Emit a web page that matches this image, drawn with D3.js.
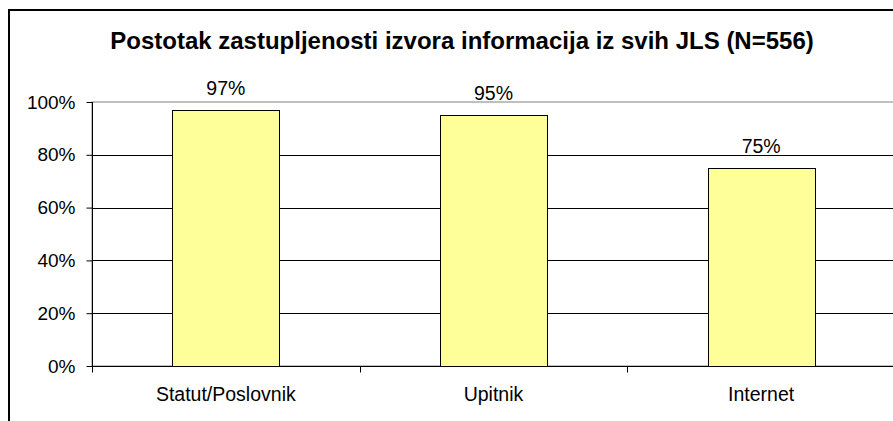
<!DOCTYPE html>
<html>
<head>
<meta charset="utf-8">
<script src="https://cdn.jsdelivr.net/npm/d3@7"></script>
<style>
  body { margin: 0; background: #fff; }
  svg { display: block; font-family: "Liberation Sans", Arial, sans-serif; }
</style>
</head>
<body>
<svg width="893" height="421"></svg>
<script>
const categories = ["Statut/Poslovnik", "Upitnik", "Internet"];
const values = [0.97, 0.95, 0.75];
const valueLabels = ["97%", "95%", "75%"];
const yTicks = [0, 0.2, 0.4, 0.6, 0.8, 1];
const title = "Postotak zastupljenosti izvora informacija iz svih JLS (N=556)";

const svg = d3.select("svg");
const margin = { top: 102, right: -2, bottom: 55, left: 92 };
const width = +svg.attr("width");
const height = +svg.attr("height");

// okvir grafikona (izlazi izvan prozora desno i dolje)
svg.append("path")
  .attr("d", `M9,${height + 5} V10 H${width + 5}`)
  .attr("fill", "none")
  .attr("stroke", "#000")
  .attr("stroke-width", 2);

svg.append("text")
  .attr("x", 462)
  .attr("y", 49)
  .attr("text-anchor", "middle")
  .style("font-size", "24px")
  .style("font-weight", "bold")
  .text(title);

const x = d3.scaleBand()
  .domain(categories)
  .range([margin.left, width - margin.right]);

const y = d3.scaleLinear()
  .domain([0, 1])
  .range([height - margin.bottom, margin.top]);

// okvir plot područja
svg.append("rect")
  .attr("x", margin.left)
  .attr("y", y(1))
  .attr("width", x.range()[1] - margin.left)
  .attr("height", y(0) - y(1))
  .attr("fill", "none")
  .attr("stroke", "#808080")
  .attr("stroke-width", 1);

// mreža
svg.append("g")
  .selectAll("line")
  .data(yTicks.filter(t => t > 0 && t < 1))
  .enter()
  .append("line")
  .attr("x1", margin.left)
  .attr("x2", x.range()[1])
  .attr("y1", d => Math.round(y(d)) + 0.5)
  .attr("y2", d => Math.round(y(d)) + 0.5)
  .attr("stroke", "#000")
  .attr("stroke-width", 1);

const bw = x.bandwidth() / 2.5;
svg.append("g")
  .selectAll("rect")
  .data(categories)
  .enter()
  .append("rect")
  .attr("x", (d) => Math.round(x(d) + (x.bandwidth() - bw) / 2) + 0.5)
  .attr("y", (d, i) => Math.round(y(values[i])) + 0.5)
  .attr("width", Math.round(bw))
  .attr("height", (d, i) => Math.round(y(0)) - Math.round(y(values[i])))
  .attr("fill", "#FFFF99")
  .attr("stroke", "#000")
  .attr("stroke-width", 1);

svg.append("g")
  .selectAll("text")
  .data(categories)
  .enter()
  .append("text")
  .attr("x", d => x(d) + x.bandwidth() / 2)
  .attr("y", (d, i) => y(values[i]) - 15)
  .attr("text-anchor", "middle")
  .style("font-size", "19.5px")
  .text((d, i) => valueLabels[i]);

// y os
const yAxis = d3.axisLeft(y)
  .tickValues(yTicks)
  .tickFormat(d3.format(".0%"))
  .tickSize(6)
  .tickPadding(11);

const gy = svg.append("g")
  .attr("transform", `translate(${margin.left + 0.5},0)`)
  .call(yAxis);
gy.select(".domain").attr("stroke", "#000").attr("d", `M0,${y(1)}V${y(0)}`);
gy.selectAll(".tick line").attr("stroke", "#000");
gy.selectAll(".tick text")
  .attr("fill", "#000")
  .style("font-size", "19px")
  .style("font-family", "Liberation Sans, Arial, sans-serif");

// x os
const gx = svg.append("g")
  .attr("transform", `translate(0,${Math.round(y(0)) + 0.5})`);
gx.append("line")
  .attr("x1", margin.left)
  .attr("x2", x.range()[1])
  .attr("stroke", "#000");
gx.selectAll(".sep")
  .data(categories)
  .enter()
  .append("line")
  .attr("x1", d => Math.round(x(d)) + 0.5)
  .attr("x2", d => Math.round(x(d)) + 0.5)
  .attr("y1", 0)
  .attr("y2", 6)
  .attr("stroke", "#000");
gx.selectAll(".cat")
  .data(categories)
  .enter()
  .append("text")
  .attr("x", d => x(d) + x.bandwidth() / 2)
  .attr("y", 34)
  .attr("text-anchor", "middle")
  .style("font-size", "19.5px")
  .text(d => d);
</script>
</body>
</html>
